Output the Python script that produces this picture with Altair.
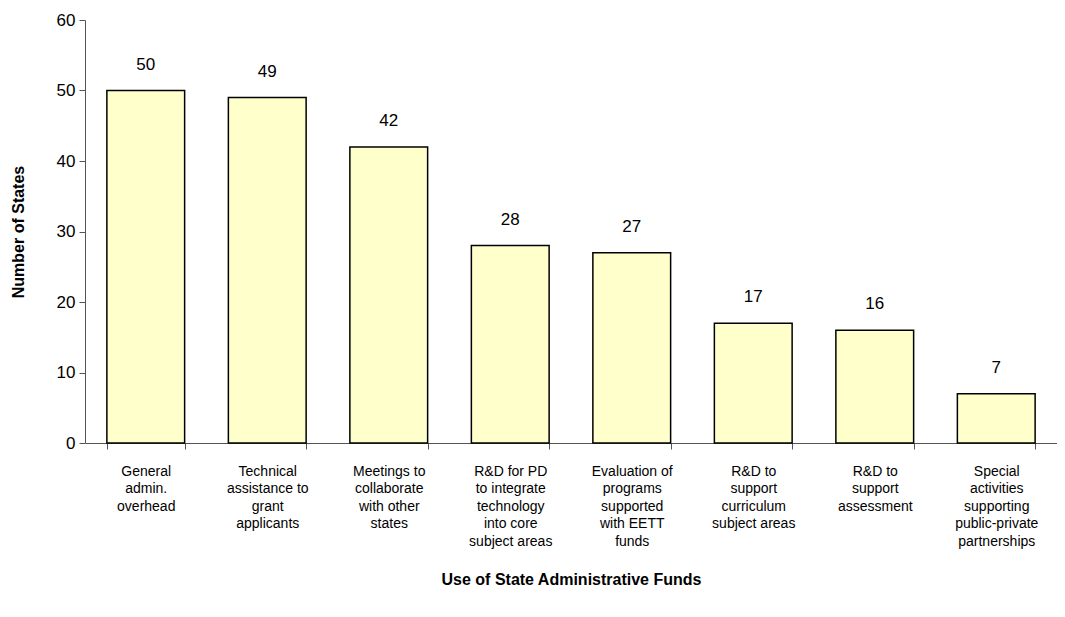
import altair as alt
import pandas as pd

categories = [
    "General|admin.|overhead",
    "Technical|assistance to|grant|applicants",
    "Meetings to|collaborate|with other|states",
    "R&D for PD|to integrate|technology|into core|subject areas",
    "Evaluation of|programs|supported|with EETT|funds",
    "R&D to|support|curriculum|subject areas",
    "R&D to|support|assessment",
    "Special|activities|supporting|public-private|partnerships",
]
values = [50, 49, 42, 28, 27, 17, 16, 7]

df = pd.DataFrame({"cat": categories, "val": values})

FONT = "Liberation Sans"

x = alt.X(
    "cat:N",
    sort=None,
    title="Use of State Administrative Funds",
    scale=alt.Scale(paddingInner=0.36, paddingOuter=0.18),
    axis=alt.Axis(
        labelAngle=0,
        labelExpr="split(datum.label, '|')",
        labelFont=FONT,
        labelFontSize=14,
        labelLineHeight=17.5,
        labelColor="black",
        labelPadding=15,
        labelBaseline="top",
        tickBand="extent",
        tickSize=6,
        tickColor="#555",
        domainColor="#555",
        grid=False,
        titleFont=FONT,
        titleFontSize=16,
        titleFontWeight="bold",
        titleColor="black",
        titlePadding=23,
        labelLimit=200,
    ),
)

y = alt.Y(
    "val:Q",
    title="Number of States",
    scale=alt.Scale(domain=[0, 60], nice=False),
    axis=alt.Axis(
        values=[0, 10, 20, 30, 40, 50, 60],
        grid=False,
        tickSize=6,
        tickColor="#555",
        domainColor="#555",
        labelFont=FONT,
        labelFontSize=17,
        labelColor="black",
        labelPadding=4,
        titleFont=FONT,
        titleFontSize=16,
        titleFontWeight="bold",
        titleColor="black",
        titlePadding=30,
    ),
)

bars = alt.Chart(df).mark_bar(
    fill="#FFFFCC", stroke="black", strokeWidth=1.5
).encode(x=x, y=y)

text = alt.Chart(df).mark_text(
    font=FONT, fontSize=17, color="black", baseline="bottom", dy=-17
).encode(
    x=alt.X("cat:N", sort=None),
    y=alt.Y("val:Q"),
    text="val:Q",
)

chart = (
    (bars + text)
    .properties(
        width=972,
        height=423,
        background="white",
        autosize=alt.AutoSizeParams(type="none"),
        padding={"left": 77, "top": 12, "right": 0, "bottom": 170},
    )
    .configure_view(strokeWidth=0)
    .configure_axis(grid=False)
)

chart.save("out.html", embed_options={"renderer": "svg", "actions": False})
